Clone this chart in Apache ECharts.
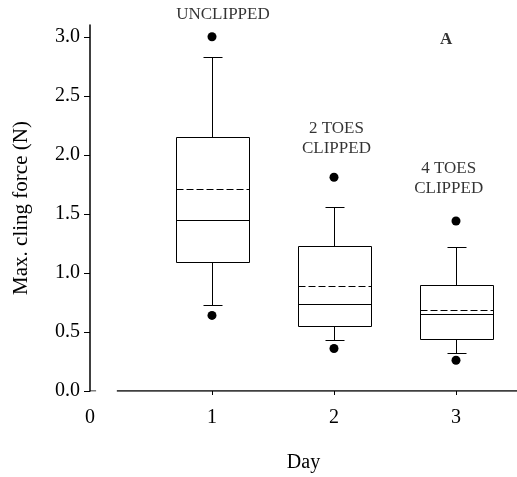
<!DOCTYPE html>
<html>
<head>
<meta charset="utf-8">
<title>Max. cling force</title>
<script src="https://cdn.jsdelivr.net/npm/echarts@6/dist/echarts.min.js"></script>
<style>html,body{margin:0;padding:0;background:#fff}#chart{width:517px;height:477px}</style>
</head>
<body>
<div id="chart"></div>
<script>
// box statistics per day
var days = [1, 2, 3];
var whiskerLow = [0.73, 0.43, 0.32];
var q1 = [1.09, 0.55, 0.44];
var median = [1.45, 0.74, 0.65];
var mean = [1.71, 0.89, 0.69];
var q3 = [2.15, 1.23, 0.90];
var whiskerHigh = [2.83, 1.56, 1.22];
var outLow = [0.64, 0.36, 0.26];
var outHigh = [3.0, 1.81, 1.44];

var yTicks = [0, 0.5, 1, 1.5, 2, 2.5, 3];
var xTicks = [0, 1, 2, 3];
var xRuleSpan = [0.22, 3.5];
var zeroTickSpan = [0, 0.05];

var notes = ['UNCLIPPED', '2 TOES\nCLIPPED', '4 TOES\nCLIPPED', 'A'];
var noteX = [1.09, 2.02, 2.94, 2.92];
var noteY = [3.19, 2.14, 1.80, 2.98];

var font = '"Liberation Serif", "Times New Roman", serif';
var ink = '#000';

var boxRows = days.map(function (d, i) {
  return [d, whiskerLow[i], q1[i], median[i], mean[i], q3[i], whiskerHigh[i]];
});
var dots = [];
days.forEach(function (d, i) {
  dots.push([d, outLow[i]]);
  dots.push([d, outHigh[i]]);
});

function seg(x1, y1, x2, y2, dash) {
  return {
    type: 'line',
    shape: { x1: x1, y1: y1, x2: x2, y2: y2 },
    style: { stroke: ink, lineWidth: 1, lineDash: dash || null }
  };
}

function renderBox(params, api) {
  var x = api.value(0);
  var half = api.size([0.3, 0])[0];
  var cap = api.size([0.08, 0])[0];
  var lo = api.coord([x, api.value(1)]);
  var b = api.coord([x, api.value(2)]);
  var md = api.coord([x, api.value(3)]);
  var mn = api.coord([x, api.value(4)]);
  var t = api.coord([x, api.value(5)]);
  var hi = api.coord([x, api.value(6)]);
  var r = function (v) { return Math.round(v) + 0.5; };
  var cx = r(lo[0]);
  return {
    type: 'group',
    children: [
      {
        type: 'rect',
        shape: { x: r(cx - half), y: r(t[1]), width: Math.round(2 * half), height: Math.round(b[1] - t[1]) },
        style: { stroke: ink, fill: 'none', lineWidth: 1 }
      },
      seg(cx, r(t[1]), cx, r(hi[1])),
      seg(r(cx - cap), r(hi[1]), r(cx + cap), r(hi[1])),
      seg(cx, r(b[1]), cx, r(lo[1])),
      seg(r(cx - cap), r(lo[1]), r(cx + cap), r(lo[1])),
      seg(r(cx - half), r(md[1]), r(cx + half), r(md[1])),
      seg(r(cx - half), r(mn[1]), r(cx + half), r(mn[1]), [7, 3])
    ]
  };
}

var chart = echarts.init(document.getElementById('chart'));
chart.setOption({
  animation: false,
  backgroundColor: '#fff',
  grid: { left: 90, right: 0, top: 25, bottom: 86, containLabel: false, outerBoundsMode: 'none' },
  xAxis: {
    type: 'value',
    min: 0,
    max: 3.5,
    name: 'Day',
    nameLocation: 'middle',
    nameGap: 62,
    nameTextStyle: { fontFamily: font, fontSize: 20, color: ink },
    axisLine: { show: false },
    axisTick: { show: true, length: 4, customValues: [1, 2, 3], lineStyle: { color: ink } },
    axisLabel: { customValues: xTicks, margin: 17, fontFamily: font, fontSize: 20, color: ink },
    splitLine: { show: false }
  },
  yAxis: {
    type: 'value',
    min: 0,
    max: 3.1,
    name: 'Max. cling force (N)',
    nameLocation: 'middle',
    nameGap: 58,
    nameTextStyle: { fontFamily: font, fontSize: 21, color: ink },
    axisLine: { show: true, lineStyle: { color: ink, width: 1.5 } },
    axisTick: { show: true, length: 6, customValues: yTicks, lineStyle: { color: ink } },
    axisLabel: {
      customValues: yTicks,
      margin: 10,
      fontFamily: font,
      fontSize: 20,
      color: ink,
      formatter: function (v) { return v.toFixed(1); }
    },
    splitLine: { show: false }
  },
  series: [
    {
      type: 'line',
      data: [[xRuleSpan[0], 0], [xRuleSpan[1], 0]],
      symbol: 'none',
      lineStyle: { color: ink, width: 1.5 },
      silent: true
    },
    {
      type: 'line',
      data: [[zeroTickSpan[0], 0], [zeroTickSpan[1], 0]],
      symbol: 'none',
      lineStyle: { color: ink, width: 1 },
      silent: true
    },
    {
      type: 'custom',
      renderItem: renderBox,
      encode: { x: 0, y: [1, 2, 3, 4, 5, 6] },
      data: boxRows
    },
    {
      type: 'scatter',
      data: dots,
      symbol: 'circle',
      symbolSize: 9,
      itemStyle: { color: ink, opacity: 1 }
    },
    {
      type: 'scatter',
      clip: false,
      symbolSize: 0,
      silent: true,
      data: notes.map(function (n, i) {
        return {
          value: [noteX[i], noteY[i]],
          label: {
            show: true,
            position: 'inside',
            formatter: n,
            fontFamily: font,
            fontSize: 17,
            fontWeight: n === 'A' ? 'bold' : 'normal',
            color: ink,
            lineHeight: 20,
            align: 'center'
          }
        };
      })
    }
  ]
});
</script>
</body>
</html>
